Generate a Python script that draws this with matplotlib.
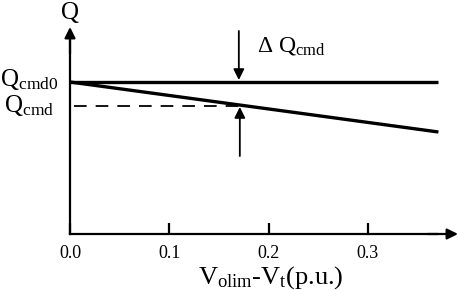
import matplotlib
matplotlib.use("Agg")
import matplotlib.pyplot as plt

plt.rcParams['font.family'] = ['Liberation Serif', 'DejaVu Serif']
plt.rcParams['mathtext.fontset'] = 'custom'
plt.rcParams['mathtext.rm'] = 'Liberation Serif'
plt.rcParams['mathtext.it'] = 'Liberation Serif'

# data
x_ticks = [0.0, 0.1, 0.2, 0.3]
x_tick_labels = ["0.0", "0.1", "0.2", "0.3"]
x_line = [0.0, 0.371]
q_cmd0 = [1.52, 1.52]
q_cmd = [1.52, 1.02]
x_op = 0.171
q_op = 1.28

fig = plt.figure(figsize=(4.58, 2.90), dpi=100)
ax = fig.add_axes([0, 0, 1, 1])
ax.set_xlim(-0.0705, 0.3907)
ax.set_ylim(-0.56, 2.34)

for s in ['top', 'right']:
    ax.spines[s].set_visible(False)
ax.spines['left'].set_position(('data', 0))
ax.spines['bottom'].set_position(('data', 0))
ax.spines['left'].set_bounds(0, 2.0)
ax.spines['bottom'].set_bounds(0, 0.37)
ax.spines['left'].set_linewidth(1.6)
ax.spines['bottom'].set_linewidth(1.6)

ax.set_xticks(x_ticks)
ax.set_xticklabels(x_tick_labels)
ax.tick_params(axis='x', direction='in', length=8, width=1.6, pad=8, labelsize=13)
ax.set_yticks([])

# axis arrowheads
ax.annotate('', xy=(0.3907, 0), xytext=(0.36, 0),
            arrowprops=dict(arrowstyle='-|>', mutation_scale=16, lw=1.6, color='black',
                            shrinkA=0, shrinkB=0))
ax.annotate('', xy=(0, 2.07), xytext=(0, 1.8),
            arrowprops=dict(arrowstyle='-|>', mutation_scale=16, lw=1.6, color='black',
                            shrinkA=0, shrinkB=0))

ax.plot(x_line, q_cmd0, color='black', lw=2.4, solid_capstyle='butt')
ax.plot(x_line, q_cmd, color='black', lw=2.4, solid_capstyle='butt')
ax.plot([0.004, x_op], [q_op, q_op], color='black', lw=1.3, dashes=(7, 5))

# delta arrows
ax.annotate('', xy=(x_op - 0.001, 1.54), xytext=(x_op - 0.001, 2.03),
            arrowprops=dict(arrowstyle='-|>', mutation_scale=16, lw=1.3, color='black',
                            shrinkA=0, shrinkB=0))
ax.annotate('', xy=(x_op, q_op - 0.01), xytext=(x_op, 0.78),
            arrowprops=dict(arrowstyle='-|>', mutation_scale=16, lw=1.3, color='black',
                            shrinkA=0, shrinkB=0))

ax.text(0.0, 2.21, 'Q', fontsize=18, ha='center', va='center')
ax.text(-0.0705, 1.55, r'Q$_{\mathrm{cmd0}}$', fontsize=18, ha='left', va='center')
ax.text(-0.066, 1.29, r'Q$_{\mathrm{cmd}}$', fontsize=18, ha='left', va='center')
ax.text(0.188, 1.88, r'Δ Q$_{\mathrm{cmd}}$', fontsize=17, ha='left', va='center')
ax.text(0.2024, -0.44, r'V$_{\mathrm{olim}}$-V$_{\mathrm{t}}$(p.u.)', fontsize=19,
        ha='center', va='center')

fig.savefig('out.png', dpi=100)
